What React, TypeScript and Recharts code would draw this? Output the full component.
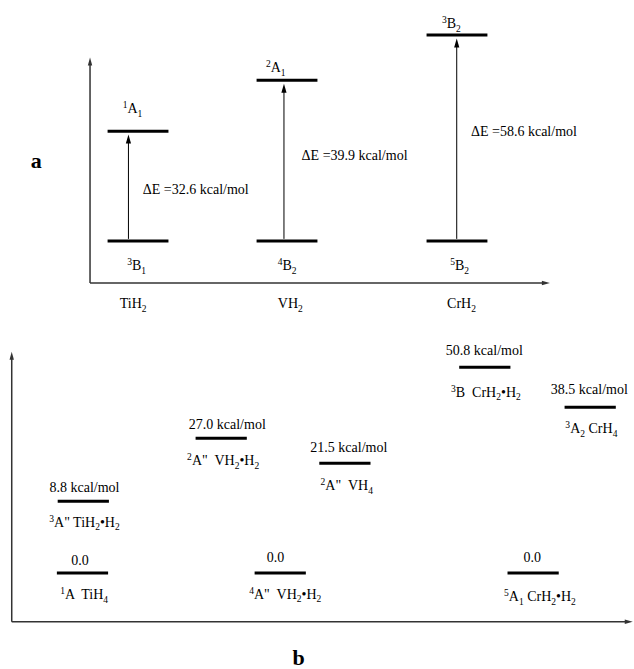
import React from 'react';
import { ComposedChart, XAxis, YAxis, ReferenceLine, Scatter } from 'recharts';

const FONT = '"Liberation Serif", "Times New Roman", Times, serif';

// ---------------- Panel a : MH2 ground -> excited state gaps ----------------
const moleculesA = ['TiH_2', 'VH_2', 'CrH_2'];
const groundStatesA = ['^3B_1', '^4B_2', '^5B_2'];
const excitedStatesA = ['^1A_1', '^2A_1', '^3B_2'];
const deltaEA = [32.6, 39.9, 58.6]; // kcal/mol
const groundLevelA = [0, 0, 0];
const excitedLevelA = [31.9, 46.7, 59.8]; // drawn heights (schematic diagram)

// ---------------- Panel b : MH4 / MH2•H2 isomers ----------------
const statesB = [
  '^1A  TiH_4',
  '^3A" TiH_2•H_2',
  '^2A"  VH_2•H_2',
  '^2A"  VH_4',
  '^3B  CrH_2•H_2',
  '^3A_2 CrH_4',
  '^4A"  VH_2•H_2',
  '^5A_1 CrH_2•H_2',
];
const energiesB = [0.0, 8.8, 27.0, 21.5, 50.8, 38.5, 0.0, 0.0]; // kcal/mol
const levelB = [0, 17.6, 33.0, 26.9, 50.4, 40.6, 0, 0]; // drawn heights (schematic)

// ---------------- layout (diagram units) ----------------
const colXA = [2.177, 4.527, 7.208];
const barHalfA = 0.48;
const arrowXA = [2.026, 4.479, 7.204];
const deltaLabelXA = [2.252, 4.757, 7.429];
const deltaLabelYA = [15.08, 24.96, 31.93];
const excitedLabelXA = [2.09, 4.35, 7.12];
const excitedLabelDyA = [-23, -13, -12];
const groundLabelXA = [2.155, 4.53, 7.25];
const moleculeLabelXA = [2.1, 4.58, 7.28];
const moleculeLabelYA = -18.04;

const colXB = [1.301, 1.314, 3.489, 5.44, 7.647, 9.309, 4.42, 8.409];
const barHalfB = 0.404;
const energyLabelXB = [1.263, 1.333, 3.585, 5.502, 7.639, 9.296, 4.347, 8.397];
const energyLabelDyB = [-13, -13.7, -14, -16.6, -17.3, -18, -15.6, -15.6];
const stateLabelXB = [1.328, 1.333, 3.52, 5.469, 7.664, 9.328, 4.5, 8.516];
const stateLabelDyB = [21, 20.7, 21.7, 21.7, 24.4, 21, 20.7, 23.4];

type Part = { t: string; k: 'n' | 'sup' | 'sub' };

function parse(text: string): Part[] {
  const parts: Part[] = [];
  let buf = '';
  let i = 0;
  while (i < text.length) {
    const c = text[i];
    if ((c === '^' || c === '_') && i + 1 < text.length) {
      if (buf) {
        parts.push({ t: buf, k: 'n' });
        buf = '';
      }
      parts.push({ t: text[i + 1], k: c === '^' ? 'sup' : 'sub' });
      i += 2;
    } else {
      buf += c;
      i++;
    }
  }
  if (buf) parts.push({ t: buf, k: 'n' });
  return parts;
}

function RichText({ x, y, text, anchor = 'middle', size = 14, bold = false }: any) {
  const parts = parse(text);
  let cur = 0;
  const small = size * 0.68;
  return (
    <text
      x={x}
      y={y}
      textAnchor={anchor}
      fontFamily={FONT}
      fontSize={size}
      fontWeight={bold ? 'bold' : 'normal'}
      fill="#000"
      style={{ whiteSpace: 'pre' }}
    >
      {parts.map((p, idx) => {
        const target = p.k === 'sup' ? -size * 0.36 : p.k === 'sub' ? size * 0.26 : 0;
        const dy = target - cur;
        cur = target;
        return (
          <tspan key={idx} dy={dy} fontSize={p.k === 'n' ? size : small}>
            {p.t}
          </tspan>
        );
      })}
    </text>
  );
}

const LabelShape = (props: any) => {
  const { cx, cy, payload } = props;
  if (cx == null || cy == null || !payload) return <g />;
  return (
    <RichText
      x={cx}
      y={cy + (payload.dyPx || 0) + 5}
      text={payload.text}
      anchor={payload.anchor || 'middle'}
      size={payload.size || 14}
      bold={!!payload.bold}
    />
  );
};

const ArrowShape = (p: any) => {
  const { x1, y1, x2, y2, stroke, strokeWidth } = p;
  const headLen = p.headLen ?? 9;
  const headHalf = p.headHalf ?? 2.6;
  const dx = x2 - x1;
  const dy = y2 - y1;
  const len = Math.hypot(dx, dy) || 1;
  const ux = dx / len;
  const uy = dy / len;
  const bx = x2 - ux * headLen;
  const by = y2 - uy * headLen;
  const px = -uy;
  const py = ux;
  return (
    <g>
      <line x1={x1} y1={y1} x2={bx + ux * 1} y2={by + uy * 1} stroke={stroke} strokeWidth={strokeWidth} />
      <polygon
        points={`${x2},${y2} ${bx + px * headHalf},${by + py * headHalf} ${bx - px * headHalf},${by - py * headHalf}`}
        fill={stroke}
      />
    </g>
  );
};

const AxisArrow = (p: any) => <ArrowShape {...p} headLen={8} headHalf={2.2} />;

const labelsA = [
  ...excitedStatesA.map((t, i) => ({ x: excitedLabelXA[i], y: excitedLevelA[i], text: t, dyPx: excitedLabelDyA[i] })),
  ...groundStatesA.map((t, i) => ({ x: groundLabelXA[i], y: groundLevelA[i], text: t, dyPx: 24 })),
  ...moleculesA.map((t, i) => ({ x: moleculeLabelXA[i], y: moleculeLabelYA, text: t, dyPx: 0 })),
  ...deltaEA.map((d, i) => ({
    x: deltaLabelXA[i],
    y: deltaLabelYA[i],
    text: `ΔE =${d.toFixed(1)} kcal/mol`,
    dyPx: 0,
    anchor: 'start',
  })),
  { x: 0.57, y: 22.92, text: 'a', dyPx: 1, bold: true, size: 22 },
];

const labelsB = [
  ...energiesB.map((e, i) => ({
    x: energyLabelXB[i],
    y: levelB[i],
    text: e === 0 ? '0.0' : `${e.toFixed(1)} kcal/mol`,
    dyPx: energyLabelDyB[i],
  })),
  ...statesB.map((t, i) => ({ x: stateLabelXB[i], y: levelB[i], text: t, dyPx: stateLabelDyB[i] })),
  { x: 4.71, y: -21.8, text: 'b', dyPx: -2, bold: true, size: 22 },
];

const AXIS_COLOR = '#333';

export default function App() {
  return (
    <div
      style={{
        position: 'absolute',
        left: 0,
        top: 0,
        width: 634,
        height: 669,
        overflow: 'hidden',
        background: '#fff',
      }}
    >
      <div style={{ position: 'absolute', left: 0, top: 0 }}>
        <ComposedChart width={634} height={327} margin={{ top: 0, right: 0, bottom: 0, left: 0 }}>
          <XAxis type="number" dataKey="x" domain={[0, 10]} hide allowDataOverflow />
          <YAxis type="number" dataKey="y" domain={[-25, 70]} hide allowDataOverflow />
          {/* axes */}
          <ReferenceLine
            segment={[{ x: 1.42, y: -12.23 }, { x: 1.42, y: 53.3 }]}
            stroke={AXIS_COLOR}
            strokeWidth={1.5}
            shape={AxisArrow}
          />
          <ReferenceLine
            segment={[{ x: 1.42, y: -12.23 }, { x: 8.673, y: -12.23 }]}
            stroke={AXIS_COLOR}
            strokeWidth={1.5}
            shape={AxisArrow}
          />
          {/* levels */}
          {colXA.map((c, i) => (
            <ReferenceLine
              key={`ga${i}`}
              segment={[{ x: c - barHalfA, y: groundLevelA[i] }, { x: c + barHalfA, y: groundLevelA[i] }]}
              stroke="#000"
              strokeWidth={3}
            />
          ))}
          {colXA.map((c, i) => (
            <ReferenceLine
              key={`ea${i}`}
              segment={[{ x: c - barHalfA, y: excitedLevelA[i] }, { x: c + barHalfA, y: excitedLevelA[i] }]}
              stroke="#000"
              strokeWidth={3}
            />
          ))}
          {/* excitation arrows */}
          {arrowXA.map((ax, i) => (
            <ReferenceLine
              key={`ar${i}`}
              segment={[{ x: ax, y: groundLevelA[i] + 0.6 }, { x: ax, y: excitedLevelA[i] - 1.0 }]}
              stroke="#000"
              strokeWidth={1}
              shape={ArrowShape}
            />
          ))}
          <Scatter data={labelsA} shape={LabelShape} isAnimationActive={false} />
        </ComposedChart>
      </div>
      <div style={{ position: 'absolute', left: 0, top: 328 }}>
        <ComposedChart width={634} height={341} margin={{ top: 0, right: 0, bottom: 0, left: 0 }}>
          <XAxis type="number" dataKey="x" domain={[0, 10]} hide allowDataOverflow />
          <YAxis type="number" dataKey="y" domain={[-23.5, 60]} hide allowDataOverflow />
          <ReferenceLine
            segment={[{ x: 0.185, y: -11.92 }, { x: 0.185, y: 54.2 }]}
            stroke={AXIS_COLOR}
            strokeWidth={1.5}
            shape={AxisArrow}
          />
          <ReferenceLine
            segment={[{ x: 0.185, y: -11.92 }, { x: 9.98, y: -11.92 }]}
            stroke={AXIS_COLOR}
            strokeWidth={1.5}
            shape={AxisArrow}
          />
          {colXB.map((c, i) => (
            <ReferenceLine
              key={`lb${i}`}
              segment={[{ x: c - barHalfB, y: levelB[i] }, { x: c + barHalfB, y: levelB[i] }]}
              stroke="#000"
              strokeWidth={3}
            />
          ))}
          <Scatter data={labelsB} shape={LabelShape} isAnimationActive={false} />
        </ComposedChart>
      </div>
    </div>
  );
}
